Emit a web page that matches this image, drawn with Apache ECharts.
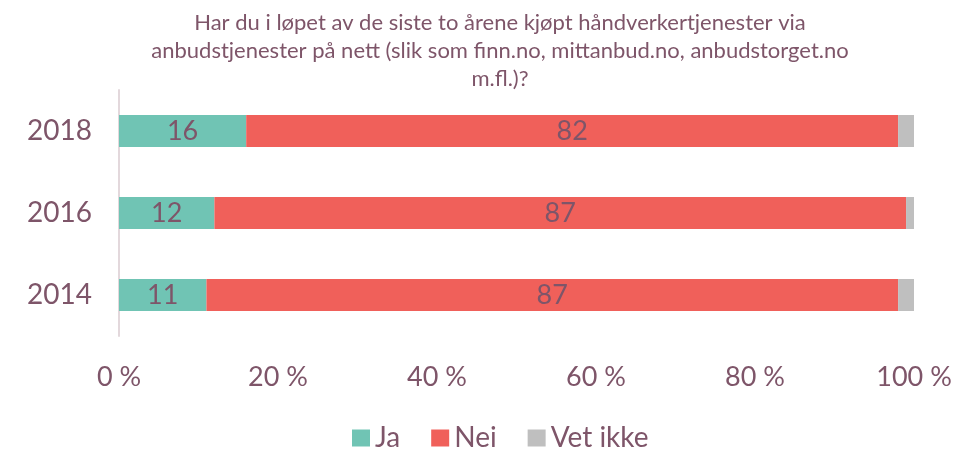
<!DOCTYPE html>
<html>
<head>
<meta charset="utf-8">
<script src="https://cdn.jsdelivr.net/npm/echarts@6/dist/echarts.min.js"></script>
<style>
  html, body { margin: 0; padding: 0; background: #fff; }
  #main { width: 980px; height: 452px; }
</style>
</head>
<body>
<div id="main"></div>
<script>
var years = ['2014', '2016', '2018'];
var ja = [11, 12, 16];
var nei = [87, 87, 82];
var vetIkke = [2, 1, 2];
var xTicks = [0, 20, 40, 60, 80, 100];

var textColor = '#7E5569';
var font = 'Lato';

function makeSeries(name, data, color, showLabel) {
    return {
        name: name,
        type: 'bar',
        stack: 'total',
        barWidth: 32,
        data: data,
        itemStyle: {color: color},
        label: {
            show: showLabel,
            position: 'inside',
            color: textColor,
            fontFamily: font,
            fontSize: 27
        }
    };
}

var chart = echarts.init(document.getElementById('main'));
chart.setOption({
    animation: false,
    title: {
        text: 'Har du i løpet av de siste to årene kjøpt håndverkertjenester via\nanbudstjenester på nett (slik som finn.no, mittanbud.no, anbudstorget.no\nm.fl.)?',
        left: 495,
        top: 4,
        textAlign: 'center',
        textStyle: {
            color: textColor,
            fontFamily: font,
            fontSize: 22,
            fontWeight: 'normal',
            lineHeight: 28
        }
    },
    legend: {
        top: 419,
        left: 347,
        itemWidth: 18,
        itemHeight: 17,
        itemGap: 31,
        icon: 'rect',
        textStyle: {color: textColor, fontFamily: font, fontSize: 28},
        data: ['Ja', 'Nei', 'Vet ikke']
    },
    grid: {left: 119, right: 66, top: 90, height: 246},
    xAxis: {
        type: 'value',
        min: 0,
        max: 100,
        interval: 20,
        splitLine: {show: false},
        axisLine: {show: false},
        axisTick: {show: false},
        axisLabel: {
            color: textColor,
            fontFamily: font,
            fontSize: 27,
            margin: 28,
            formatter: function (v) { return xTicks.indexOf(v) >= 0 ? v + ' %' : ''; }
        }
    },
    yAxis: {
        type: 'category',
        data: years,
        axisLine: {show: true, lineStyle: {color: '#E3D8DC', width: 2}},
        axisTick: {show: false},
        axisLabel: {
            color: textColor,
            fontFamily: font,
            fontSize: 28,
            margin: 27
        }
    },
    series: [
        makeSeries('Ja', ja, '#70C4B4', true),
        makeSeries('Nei', nei, '#F0605A', true),
        makeSeries('Vet ikke', vetIkke, '#BFBFBF', false)
    ]
});
</script>
</body>
</html>
